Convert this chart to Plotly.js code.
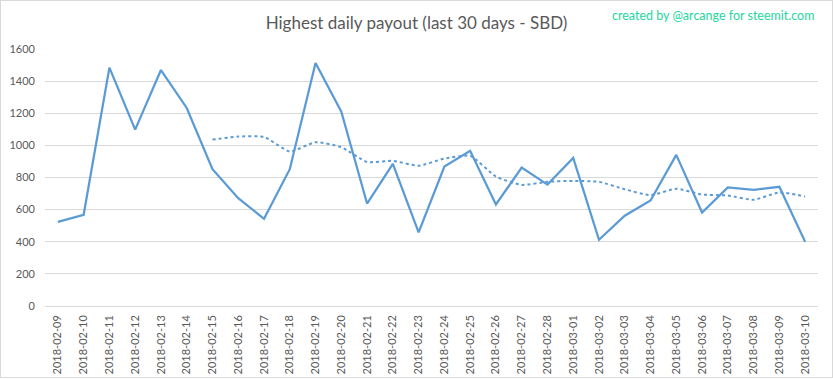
<!DOCTYPE html>
<html>
<head>
<meta charset="utf-8">
<script src="https://cdn.plot.ly/plotly-3.0.1.min.js"></script>
<style>
  html, body { margin: 0; padding: 0; background: #fff; }
  #wrap { position: relative; width: 833px; height: 379px; }
  #chart { width: 833px; height: 379px; }
  #frame { position: absolute; left: 0; top: 0; width: 831px; height: 376px; border: 1px solid #d9d9d9; pointer-events: none; }
</style>
</head>
<body>
<div id="wrap">
  <div id="chart"></div>
  <div id="frame"></div>
</div>
<script>
const dates = ["2018-02-09","2018-02-10","2018-02-11","2018-02-12","2018-02-13","2018-02-14","2018-02-15","2018-02-16","2018-02-17","2018-02-18","2018-02-19","2018-02-20","2018-02-21","2018-02-22","2018-02-23","2018-02-24","2018-02-25","2018-02-26","2018-02-27","2018-02-28","2018-03-01","2018-03-02","2018-03-03","2018-03-04","2018-03-05","2018-03-06","2018-03-07","2018-03-08","2018-03-09","2018-03-10"];
const payout = [524, 568, 1484, 1098, 1469, 1233, 852, 671, 543, 852, 1513, 1210, 638, 885, 458, 868, 966, 632, 862, 756, 922, 412, 562, 657, 941, 582, 738, 723, 742, 400];
const trendDates = dates.slice(6);
const trend = [1036, 1055, 1053, 962, 1020, 989, 897, 904, 873, 918, 935, 806, 754, 773, 779, 773, 727, 690, 730, 694, 688, 661, 707, 682];
const yTicks = [0, 200, 400, 600, 800, 1000, 1200, 1400, 1600];

const blue = '#5B9BD5';
const traces = [
  { x: dates, y: payout, type: 'scatter', mode: 'lines', line: { color: blue, width: 2.25 }, hoverinfo: 'x+y' },
  { x: trendDates, y: trend, type: 'scatter', mode: 'lines', line: { color: blue, width: 2, dash: 'dot', shape: 'spline', smoothing: 0.5 }, hoverinfo: 'x+y' }
];
const layout = {
  width: 833, height: 379,
  margin: { l: 45, r: 15, t: 49, b: 73 },
  paper_bgcolor: '#fff', plot_bgcolor: '#fff',
  showlegend: false,
  title: { text: 'Highest daily payout (last 30 days - SBD)', font: { family: 'Lato, sans-serif', size: 17, color: '#595959' }, x: 0.5, xanchor: 'center', y: 1 - 23/379, yref: 'container', yanchor: 'middle' },
  xaxis: {
    type: 'category', range: [-0.5, dates.length - 0.5], tickangle: -90,
    tickfont: { family: 'Lato, sans-serif', size: 11, color: '#595959' },
    showgrid: false, showline: false, zeroline: false, ticks: '', ticklabelstandoff: 6, automargin: false
  },
  yaxis: {
    range: [0, 1600], tickvals: yTicks, ticktext: yTicks.map(String),
    tickfont: { family: 'Lato, sans-serif', size: 11, color: '#595959' },
    showgrid: true, gridcolor: '#d9d9d9', gridwidth: 1, zeroline: true, zerolinecolor: '#d9d9d9', zerolinewidth: 1,
    showline: false, ticks: '', ticklabelstandoff: 9, automargin: false
  },
  annotations: [{
    text: 'created by @arcange for steemit.com', xref: 'paper', yref: 'paper',
    x: 0.997, y: 1 + (49 - 15) / 257, xanchor: 'right', yanchor: 'middle', showarrow: false,
    font: { family: 'Lato, sans-serif', size: 12.5, color: '#1ED69E' }
  }]
};
Plotly.newPlot('chart', traces, layout, { displayModeBar: false, staticPlot: true });
</script>
</body>
</html>
